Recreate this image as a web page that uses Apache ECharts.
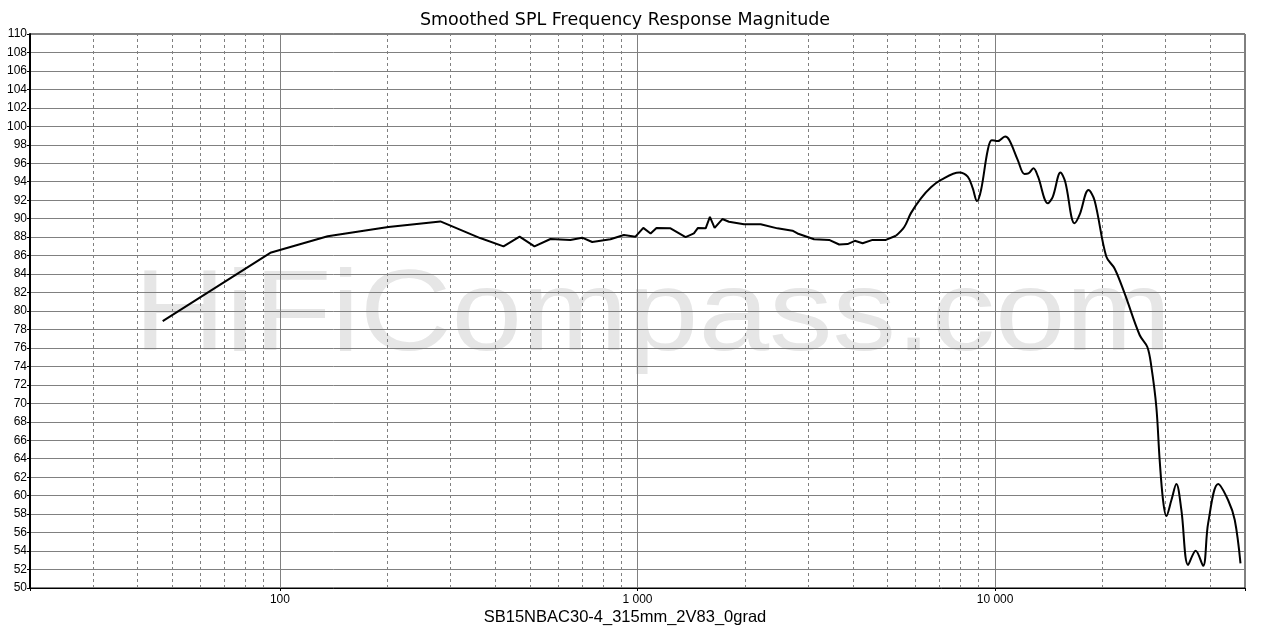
<!DOCTYPE html>
<html>
<head>
<meta charset="utf-8">
<script src="https://cdn.jsdelivr.net/npm/echarts@6/dist/echarts.min.js"></script>
<style>
html,body{margin:0;padding:0;background:#fff;}
#chart{width:1276px;height:635px;}
</style>
</head>
<body>
<div id="chart"></div>
<script>
// Frequency (Hz) and SPL (dB)
const freqs = [47, 94, 136, 201, 281, 363, 422, 468, 515, 571, 649, 700, 747, 840, 916, 987,
  1038, 1088, 1130, 1237, 1363, 1438, 1476, 1551, 1594, 1643, 1727, 1802, 1985, 2211, 2462,
  2713, 2802, 3117, 3435, 3664, 3868, 4054, 4261, 4544, 4951, 5281];
const spl = [78.9, 86.3, 88.1, 89.1, 89.7, 87.9, 87.0, 88.05, 87.0, 87.8, 87.7, 87.94, 87.47, 87.77, 88.23, 88.05,
  89.0, 88.4, 89.0, 88.95, 88.0, 88.4, 89.0, 88.95, 90.2, 89.0, 89.96, 89.67, 89.4, 89.4, 88.95,
  88.7, 88.4, 87.77, 87.7, 87.2, 87.25, 87.6, 87.33, 87.7, 87.7, 88.15];
const freqsHi = [5281, 5572, 5817, 6204, 6618, 7060, 7943, 8385, 8659, 8903, 9137, 9541, 9790, 10177,
  10666, 10966, 11575, 12084, 12398, 12804, 13172, 14050, 14510, 15240, 15710, 16680, 17226, 18251,
  18973, 20463, 21588, 23030, 25370, 26660, 27350, 28250, 28860, 29500, 30130, 31120, 32140, 33190,
  34660, 36400, 38180, 39430, 42060, 44860, 46810, 48570];
const splHi = [88.15, 89.1, 90.6, 92.2, 93.4, 94.2, 95.0, 94.55, 93.3, 91.9, 93.1, 97.44, 98.5, 98.4,
  98.9, 98.5, 96.35, 94.84, 94.9, 95.45, 94.6, 91.66, 92.4, 95.0, 94.0, 89.5, 90.4, 93.1,
  92.0, 85.9, 84.6, 81.9, 77.4, 76.1, 74.0, 69.6, 63.86, 59.5, 57.8, 59.5, 61.26, 58.45,
  52.5, 54.04, 52.4, 57.0, 61.26, 59.5, 57.36, 52.67];
const decadeLines = [100, 1000, 10000];
const minorLines = [30, 40, 50, 60, 70, 80, 90, 200, 300, 400, 500, 600, 700, 800, 900,
  2000, 3000, 4000, 5000, 6000, 7000, 8000, 9000, 20000, 30000, 40000];
const xLabels = {100: '100', 1000: '1 000', 10000: '10 000'};
const titleText = 'Smoothed SPL Frequency Response Magnitude';
const xName = 'SB15NBAC30-4_315mm_2V83_0grad';
const watermark = 'HiFiCompass.com';

const chart = echarts.init(document.getElementById('chart'));
const gridColor = '#808080';
chart.setOption({
  animation: false,
  backgroundColor: '#fff',
  title: {
    text: titleText, left: 620, top: 6, textAlign: 'center',
    textStyle: {fontFamily: 'DejaVu Sans', fontSize: 17.5, fontWeight: 'normal', color: '#000'}
  },
  graphic: [{
    type: 'text', z: -10, left: 134, top: 261, scaleY: 0.9,
    style: {text: watermark, font: '127px "Liberation Sans", Arial, sans-serif', fill: '#e6e6e6'}
  }, {
    type: 'text', x: 625, y: 609,
    style: {text: xName, font: '16.5px "Liberation Sans", Arial, sans-serif', fill: '#000', textAlign: 'center', textVerticalAlign: 'top'}
  }],
  grid: {left: 30, right: 31, top: 34, bottom: 47, show: true, borderColor: '#000', borderWidth: 1, backgroundColor: 'transparent'},
  xAxis: {
    type: 'log', logBase: 10, min: 20, max: 50000,
    axisLine: {lineStyle: {color: '#000', width: 1}},
    axisTick: {show: true, length: 3, inside: false, lineStyle: {color: '#000'}},
    splitLine: {show: false},
    axisLabel: {
      fontFamily: 'Liberation Sans, Arial', fontSize: 12, color: '#000', margin: 6,
      formatter: function (v) {
        const k = Math.round(v);
        return xLabels[k] || '';
      }
    }
  },
  yAxis: {
    type: 'value', min: 50, max: 110, interval: 2,
    axisLine: {show: true, lineStyle: {color: '#000', width: 2}},
    axisTick: {show: true, length: 3, lineStyle: {color: '#000'}},
    splitLine: {show: true, lineStyle: {color: gridColor, width: 1}},
    axisLabel: {fontFamily: 'Liberation Sans, Arial', fontSize: 12, color: '#000', margin: 3}
  },
  series: [{
    type: 'line', data: [], silent: true, z: 1,
    markLine: {
      silent: true, symbol: 'none', animation: false, label: {show: false},
      lineStyle: {color: gridColor, type: [3, 3], width: 1},
      data: minorLines.map(v => ({xAxis: v}))
    }
  }, {
    type: 'line', data: [], silent: true, z: 1,
    markLine: {
      silent: true, symbol: 'none', animation: false, label: {show: false},
      lineStyle: {color: gridColor, type: 'solid', width: 1},
      data: decadeLines.map(v => ({xAxis: v}))
    }
  }, {
    type: 'line', z: 5, showSymbol: false, smooth: false,
    lineStyle: {color: '#000', width: 2},
    data: freqs.map((f, i) => [f, spl[i]])
  }, {
    type: 'line', z: 5, showSymbol: false, smooth: 0.35,
    lineStyle: {color: '#000', width: 2},
    data: freqsHi.map((f, i) => [f, splHi[i]])
  }]
});
</script>
</body>
</html>
